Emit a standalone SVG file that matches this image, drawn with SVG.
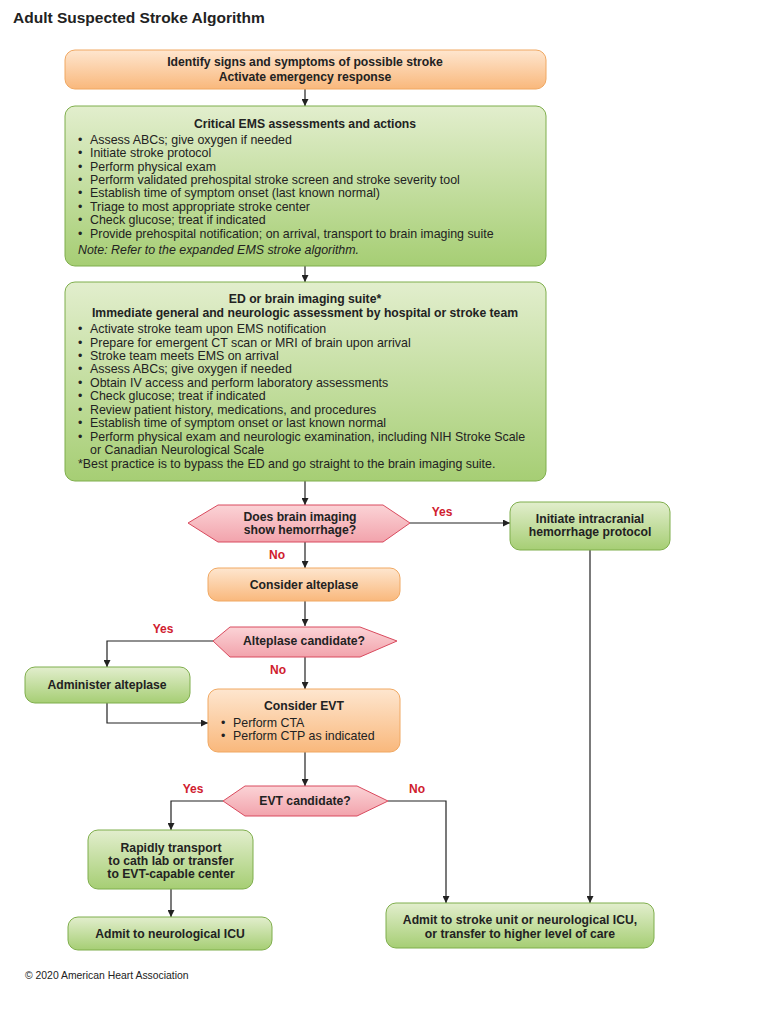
<svg xmlns="http://www.w3.org/2000/svg" width="768" height="1024" viewBox="0 0 768 1024">
<defs>
<linearGradient id="gOr" x1="0" y1="0" x2="0" y2="1"><stop offset="0" stop-color="#fee6cf"/><stop offset="1" stop-color="#f9b87c"/></linearGradient>
<linearGradient id="gGr" x1="0" y1="0" x2="0" y2="1"><stop offset="0" stop-color="#e2eecd"/><stop offset="1" stop-color="#a6ce74"/></linearGradient>
<linearGradient id="gPk" x1="0" y1="0" x2="0" y2="1"><stop offset="0" stop-color="#fbd3d6"/><stop offset="1" stop-color="#f2a3ac"/></linearGradient>
<marker id="ah" viewBox="0 0 10 10" refX="10" refY="5" markerWidth="7" markerHeight="7" orient="auto" markerUnits="userSpaceOnUse"><path d="M0,0 L10,5 L0,10 z" fill="#222"/></marker>
<style>
.or{fill:url(#gOr);stroke:#f0a862;stroke-width:1}
.gr{fill:url(#gGr);stroke:#7fae4c;stroke-width:1}
.pk{fill:url(#gPk);stroke:#d94a5e;stroke-width:1}
text{font-family:"Liberation Sans",Arial,sans-serif;fill:#222;font-size:12.4px}
.b{font-weight:bold;font-size:12.2px}
.c{text-anchor:middle}
.lbl{fill:#d0202e;font-weight:bold;font-size:12px}
.conn path{fill:none;stroke:#222;stroke-width:1.2}
</style>
</defs>
<rect width="768" height="1024" fill="#fff"/>
<text x="13" y="23" class="b" style="font-size:15.5px">Adult Suspected Stroke Algorithm</text>

<g id="conn" class="conn">
<path d="M305,89 V106" marker-end="url(#ah)"/>
<path d="M305,266 V282" marker-end="url(#ah)"/>
<path d="M305,481 V505" marker-end="url(#ah)"/>
<path d="M410,523 H510" marker-end="url(#ah)"/>
<path d="M305,542 V568" marker-end="url(#ah)"/>
<path d="M590,550 V903" marker-end="url(#ah)"/>
<path d="M305,601 V626" marker-end="url(#ah)"/>
<path d="M213,641 H107 V667" marker-end="url(#ah)"/>
<path d="M305,657 V689" marker-end="url(#ah)"/>
<path d="M107,703 V723 H208" marker-end="url(#ah)"/>
<path d="M305,752 V786" marker-end="url(#ah)"/>
<path d="M223,801 H171 V830" marker-end="url(#ah)"/>
<path d="M388,801 H446 V903" marker-end="url(#ah)"/>
<path d="M171,889 V917" marker-end="url(#ah)"/>
</g>

<g id="n1">
<rect x="65" y="50" width="481" height="39" rx="10" class="or"/>
<text x="305" y="66" class="b c">Identify signs and symptoms of possible stroke</text>
<text x="305" y="81" class="b c">Activate emergency response</text>
</g>

<g id="n2">
<rect x="65" y="106" width="481" height="160" rx="10" class="gr"/>
<text x="305" y="128" class="b c">Critical EMS assessments and actions</text>
<text x="78" y="144">•</text><text x="90" y="144">Assess ABCs; give oxygen if needed</text>
<text x="78" y="157">•</text><text x="90" y="157">Initiate stroke protocol</text>
<text x="78" y="171">•</text><text x="90" y="171">Perform physical exam</text>
<text x="78" y="184">•</text><text x="90" y="184">Perform validated prehospital stroke screen and stroke severity tool</text>
<text x="78" y="197">•</text><text x="90" y="197">Establish time of symptom onset (last known normal)</text>
<text x="78" y="211">•</text><text x="90" y="211">Triage to most appropriate stroke center</text>
<text x="78" y="224">•</text><text x="90" y="224">Check glucose; treat if indicated</text>
<text x="78" y="238">•</text><text x="90" y="238">Provide prehospital notification; on arrival, transport to brain imaging suite</text>
<text x="78" y="254" font-style="italic">Note: Refer to the expanded EMS stroke algorithm.</text>
</g>

<g id="n3">
<rect x="65" y="282" width="481" height="199" rx="10" class="gr"/>
<text x="305" y="303" class="b c">ED or brain imaging suite*</text>
<text x="305" y="317" class="b c">Immediate general and neurologic assessment by hospital or stroke team</text>
<text x="78" y="333">•</text><text x="90" y="333">Activate stroke team upon EMS notification</text>
<text x="78" y="347">•</text><text x="90" y="347">Prepare for emergent CT scan or MRI of brain upon arrival</text>
<text x="78" y="360">•</text><text x="90" y="360">Stroke team meets EMS on arrival</text>
<text x="78" y="373">•</text><text x="90" y="373">Assess ABCs; give oxygen if needed</text>
<text x="78" y="387">•</text><text x="90" y="387">Obtain IV access and perform laboratory assessments</text>
<text x="78" y="400">•</text><text x="90" y="400">Check glucose; treat if indicated</text>
<text x="78" y="414">•</text><text x="90" y="414">Review patient history, medications, and procedures</text>
<text x="78" y="427">•</text><text x="90" y="427">Establish time of symptom onset or last known normal</text>
<text x="78" y="441">•</text><text x="90" y="441">Perform physical exam and neurologic examination, including NIH Stroke Scale</text>
<text x="90" y="454">or Canadian Neurological Scale</text>
<text x="78" y="468">*Best practice is to bypass the ED and go straight to the brain imaging suite.</text>
</g>

<g id="d1">
<polygon points="188,523 218,505 383,505 410,523 383,542 218,542" class="pk"/>
<text x="300" y="521" class="b c">Does brain imaging</text>
<text x="300" y="534" class="b c">show hemorrhage?</text>
</g>
<text x="442" y="516" class="lbl c">Yes</text>
<text x="277" y="559" class="lbl c">No</text>

<g id="n4">
<rect x="510" y="502" width="160" height="48" rx="10" class="gr"/>
<text x="590" y="523" class="b c">Initiate intracranial</text>
<text x="590" y="536" class="b c">hemorrhage protocol</text>
</g>

<g id="n5">
<rect x="208" y="568" width="192" height="33" rx="10" class="or"/>
<text x="304" y="589" class="b c">Consider alteplase</text>
</g>

<g id="d2">
<polygon points="213,641 230,627 360,627 397,641 360,657 230,657" class="pk"/>
<text x="304" y="645" class="b c">Alteplase candidate?</text>
</g>
<text x="163" y="633" class="lbl c">Yes</text>
<text x="278" y="674" class="lbl c">No</text>

<g id="n6">
<rect x="25" y="667" width="165" height="36" rx="10" class="gr"/>
<text x="107" y="689" class="b c">Administer alteplase</text>
</g>

<g id="n7">
<rect x="208" y="689" width="192" height="63" rx="10" class="or"/>
<text x="304" y="710" class="b c">Consider EVT</text>
<text x="221" y="727">•</text><text x="233" y="727">Perform CTA</text>
<text x="221" y="740">•</text><text x="233" y="740">Perform CTP as indicated</text>
</g>

<g id="d3">
<polygon points="223,801 245,786 357,786 388,801 357,816 245,816" class="pk"/>
<text x="305" y="805" class="b c">EVT candidate?</text>
</g>
<text x="193" y="793" class="lbl c">Yes</text>
<text x="417" y="793" class="lbl c">No</text>

<g id="n8">
<rect x="88" y="830" width="165" height="59" rx="10" class="gr"/>
<text x="171" y="852" class="b c">Rapidly transport</text>
<text x="171" y="865" class="b c">to cath lab or transfer</text>
<text x="171" y="878" class="b c">to EVT-capable center</text>
</g>

<g id="n9">
<rect x="68" y="917" width="204" height="33" rx="10" class="gr"/>
<text x="170" y="938" class="b c">Admit to neurological ICU</text>
</g>

<g id="n10">
<rect x="386" y="903" width="268" height="45" rx="10" class="gr"/>
<text x="520" y="924" class="b c">Admit to stroke unit or neurological ICU,</text>
<text x="520" y="938" class="b c">or transfer to higher level of care</text>
</g>

<text x="25" y="979" style="font-size:10.4px">© 2020 American Heart Association</text>
</svg>
